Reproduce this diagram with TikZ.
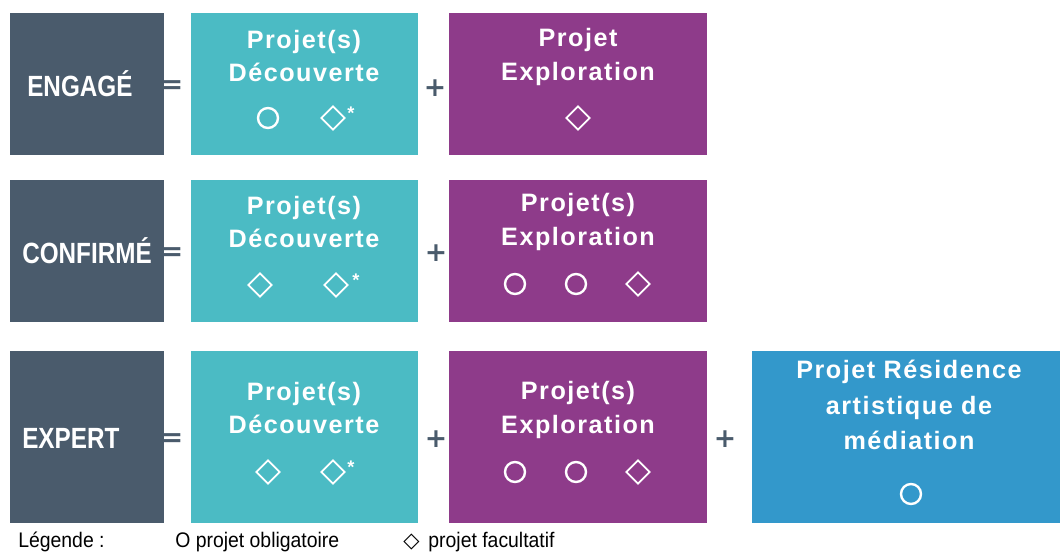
\documentclass[tikz,border=0pt]{standalone}
\usepackage{fontspec}
\setmainfont{Liberation Sans}
\newfontfamily\titlefont[LetterSpace=6]{Liberation Sans}
\newfontfamily\levelfont[FakeStretch=0.83]{Liberation Sans}
\newfontfamily\legendfont[FakeStretch=0.92]{Liberation Sans}
\newfontfamily\symfont{DejaVu Sans}
\usetikzlibrary{shapes.geometric}
\definecolor{slate}{HTML}{4A5B6C}
\definecolor{decouv}{HTML}{4BBBC4}
\definecolor{explo}{HTML}{8E3B8A}
\definecolor{resid}{HTML}{3398CB}

\begin{document}
\begin{tikzpicture}[x=0.025cm,y=-0.025cm,every node/.style={inner sep=0pt},
    title/.style={font=\titlefont\bfseries\fontsize{17.9}{23.5}\selectfont,
      text=white,align=center},
    level/.style={font=\levelfont\bfseries\fontsize{20.8}{24}\selectfont,
      text=white,anchor=west},
    sign/.style={font=\symfont\bfseries\fontsize{19}{24}\selectfont,text=slate},
    ring/.style={circle,draw=white,line width=1.7pt,minimum size=0.5cm},
    lozenge/.style={diamond,draw=white,line width=1.3pt,minimum size=0.6cm},
    star/.style={font=\bfseries\fontsize{13}{13}\selectfont,text=white},
    legend/.style={font=\legendfont\fontsize{15}{17}\selectfont,anchor=base west}]
  \useasboundingbox (0,0) rectangle (1060,553);
  % row 1
  \fill[slate](10,13)rectangle(164,155);
  \fill[decouv](191,13)rectangle(418,155);
  \fill[explo](449,13)rectangle(707,155);
  \node[level](engage)at(27,84){ENGAGÉ};
  \node[sign](eq1)at(172,87){=};
  \node[title](dec1)at(304,56){Projet(s)\\Découverte};
  \node[ring](dec1a)at(268,118){};
  \node[lozenge](dec1b)at(333,118){};
  \node[star](dec1s)at(351,113){*};
  \node[sign](plus1)at(435,88){+};
  \node[title](exp1)at(578,57){Projet\\Exploration};
  \node[lozenge](exp1a)at(578,118){};
  % row 2
  \fill[slate](10,180)rectangle(164,322);
  \fill[decouv](191,180)rectangle(418,322);
  \fill[explo](449,180)rectangle(707,322);
  \node[level](confirme)at(22,251){CONFIRMÉ};
  \node[sign](eq2)at(172,254){=};
  \node[title](dec2)at(304,222){Projet(s)\\Découverte};
  \node[lozenge](dec2a)at(260,285){};
  \node[lozenge](dec2b)at(336,285){};
  \node[star](dec2s)at(356,280){*};
  \node[sign](plus2)at(436,253){+};
  \node[title](exp2)at(578,222){Projet(s)\\Exploration};
  \node[ring](exp2a)at(515,284){};
  \node[ring](exp2b)at(576,284){};
  \node[lozenge](exp2c)at(638,284){};
  % row 3
  \fill[slate](10,351)rectangle(164,523);
  \fill[decouv](191,351)rectangle(418,523);
  \fill[explo](449,351)rectangle(707,523);
  \fill[resid](752,351)rectangle(1060,523);
  \node[level](expert)at(22,438){EXPERT};
  \node[sign](eq3)at(172,440){=};
  \node[title](dec3)at(304,408){Projet(s)\\Découverte};
  \node[lozenge](dec3a)at(268,472){};
  \node[lozenge](dec3b)at(333,472){};
  \node[star](dec3s)at(351,467){*};
  \node[sign](plus3)at(436,439){+};
  \node[title](exp3)at(578,410){Projet(s)\\Exploration};
  \node[ring](exp3a)at(515,472){};
  \node[ring](exp3b)at(576,472){};
  \node[lozenge](exp3c)at(638,472){};
  \node[sign](plus4)at(725,439){+};
  \node[title](res3)at(909,405){Projet Résidence\\[2pt]artistique de\\[2pt]médiation};
  \node[ring](res3a)at(911,494){};
  % legend
  \node[legend](leg)at(18,547){Légende :};
  \node[legend](legoblig)at(175,547){O projet obligatoire};
  \node[legend](legfacul)at(403,547){{\symfont ◇}\, projet facultatif};
\end{tikzpicture}
\end{document}
